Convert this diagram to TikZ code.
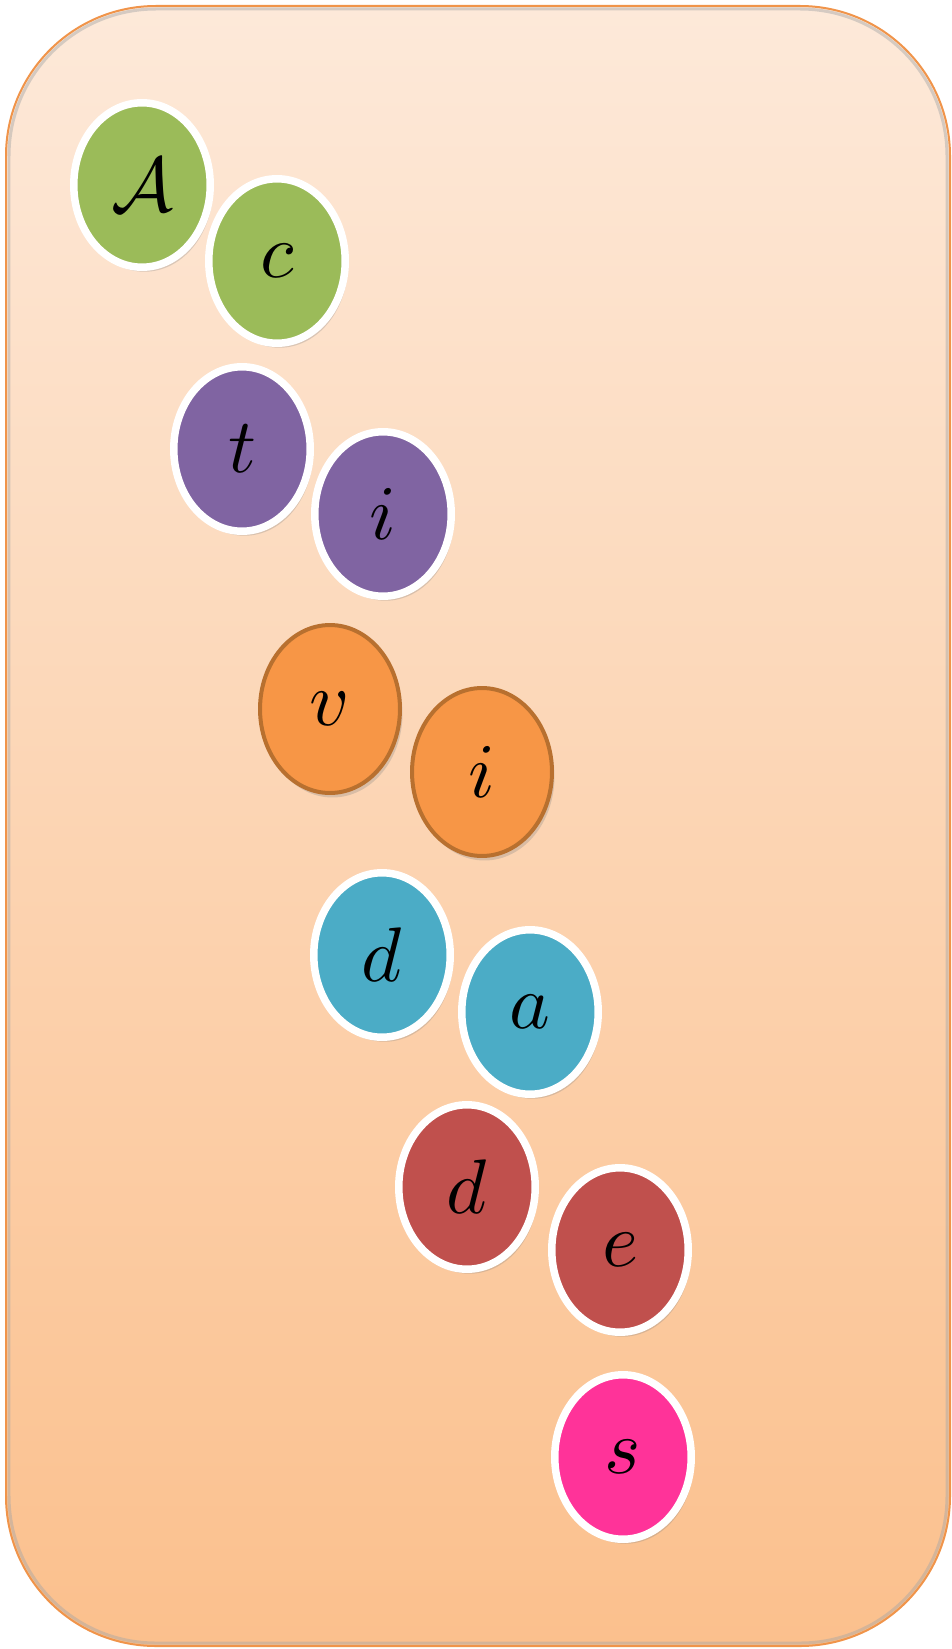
\documentclass[tikz,border=0pt]{standalone}
\usepackage{amsmath}
\usepackage{xcolor}
\usepackage{tikz}
\usetikzlibrary{shapes.geometric,shadows}
\definecolor{paneltop}{HTML}{FDE9D9}
\definecolor{panelbot}{HTML}{FBC08D}
\definecolor{panelrim}{HTML}{F0944A}
\definecolor{leaf}{HTML}{9BBB59}
\definecolor{plum}{HTML}{8064A2}
\definecolor{amber}{HTML}{F79646}
\definecolor{amberrim}{HTML}{B8702F}
\definecolor{teal}{HTML}{4BACC6}
\definecolor{brick}{HTML}{C0504D}
\definecolor{rose}{HTML}{FF3399}
\newcommand{\bigletter}[1]{\scalebox{4.4}{$#1$}}
\tikzset{
  bead/.style={ellipse,minimum width=2.73cm,minimum height=3.29cm,inner sep=0pt,
    draw=white,line width=0.15cm,
    drop shadow={shadow xshift=0.05cm,shadow yshift=-0.09cm,opacity=0.28}},
  rimbead/.style={bead,draw=amberrim,line width=0.08cm,minimum width=2.8cm,minimum height=3.36cm}
}

\begin{document}
\begin{tikzpicture}[x=0.02cm,y=-0.02cm]
\useasboundingbox (0,0) rectangle (952,1649);
% the panel behind the letters
\shade[top color=paneltop,bottom color=panelbot,draw=panelrim,line width=0.04cm,rounded corners=3cm]
  (6,6) rectangle (950,1646);
\draw[black!35,opacity=0.45,line width=0.06cm,rounded corners=2.94cm] (9,9) rectangle (947,1643);
% the letters, two by two
\node[bead,fill=leaf] (bA) at (142,185) {\bigletter{\mathcal{A}}};
\node[bead,fill=leaf] (bc) at (277,261) {\bigletter{c}};
\node[bead,fill=plum] (bt) at (242,449) {\bigletter{t}};
\node[bead,fill=plum] (bi1) at (383,514) {\bigletter{i}};
\node[rimbead,fill=amber] (bv) at (330,709) {\bigletter{v}};
\node[rimbead,fill=amber] (bi2) at (482,772) {\bigletter{i}};
\node[bead,fill=teal] (bd1) at (382,955) {\bigletter{d}};
\node[bead,fill=teal] (ba) at (530,1012) {\bigletter{a}};
\node[bead,fill=brick] (bd2) at (467,1187) {\bigletter{d}};
\node[bead,fill=brick] (be) at (620,1250) {\bigletter{e}};
\node[bead,fill=rose] (bs) at (623,1457) {\bigletter{s}};
\end{tikzpicture}
\end{document}
